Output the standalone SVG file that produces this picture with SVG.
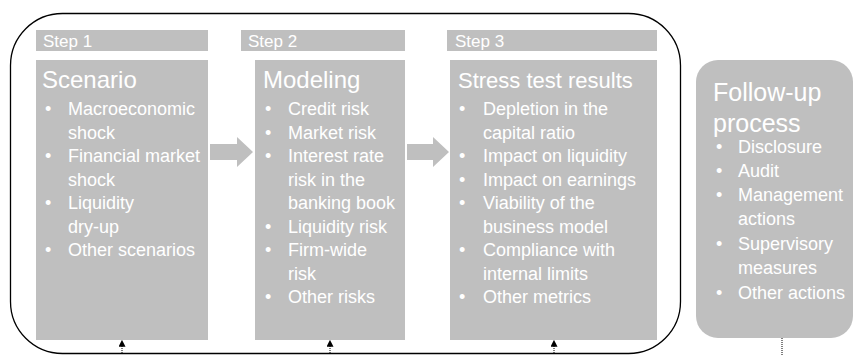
<svg xmlns="http://www.w3.org/2000/svg" width="855" height="356" viewBox="0 0 855 356">
<defs>
<style>
.box{fill:#bfbfbf;}
.t{font-family:"Liberation Sans",Arial,sans-serif;fill:#ffffff;}
.hd{font-size:17px;}
.ti{font-size:24px;}
.b{font-size:18px;}
.con{stroke:#000;stroke-width:1;fill:none;}
.dot{stroke:#000;stroke-width:1;stroke-dasharray:1 1;fill:none;}
</style>
<marker id="ah" viewBox="0 0 6 6" refX="5" refY="3" markerWidth="7" markerHeight="7" markerUnits="userSpaceOnUse" orient="auto">
<path d="M0,0 L6,3 L0,6 z" fill="#000"/>
</marker>
</defs>
<rect width="855" height="356" fill="#ffffff"/>
<g id="frame">
<rect x="10.5" y="13.5" width="670" height="340" rx="52" ry="52" fill="none" stroke="#000" stroke-width="1.3"/>
</g>
<g id="step1">
<rect class="box" x="36" y="30" width="172" height="21"/>
<text class="t hd" x="43" y="47">Step 1</text>
<rect class="box" x="36" y="60" width="172" height="280"/>
<text class="t ti" x="42" y="88">Scenario</text>
<g class="t b">
<text x="45" y="115">•</text><text x="68" y="115">Macroeconomic</text>
<text x="68" y="138.5">shock</text>
<text x="45" y="162">•</text><text x="68" y="162">Financial market</text>
<text x="68" y="185.5">shock</text>
<text x="45" y="209">•</text><text x="68" y="209">Liquidity</text>
<text x="68" y="232.5">dry-up</text>
<text x="45" y="256">•</text><text x="68" y="256">Other scenarios</text>
</g>
</g>
<g id="step2">
<rect class="box" x="241" y="30" width="164" height="21"/>
<text class="t hd" x="248" y="47">Step 2</text>
<rect class="box" x="255" y="60" width="150" height="280"/>
<text class="t ti" x="263" y="88">Modeling</text>
<g class="t b">
<text x="265" y="115">•</text><text x="288" y="115">Credit risk</text>
<text x="265" y="138.5">•</text><text x="288" y="138.5">Market risk</text>
<text x="265" y="162">•</text><text x="288" y="162">Interest rate</text>
<text x="288" y="185.5">risk in the</text>
<text x="288" y="209">banking book</text>
<text x="265" y="232.5">•</text><text x="288" y="232.5">Liquidity risk</text>
<text x="265" y="256">•</text><text x="288" y="256">Firm-wide</text>
<text x="288" y="279.5">risk</text>
<text x="265" y="303">•</text><text x="288" y="303">Other risks</text>
</g>
</g>
<g id="step3">
<rect class="box" x="447" y="30" width="210" height="21"/>
<text class="t hd" x="455" y="47">Step 3</text>
<rect class="box" x="450" y="60" width="207" height="280"/>
<text class="t" x="458" y="88" font-size="22">Stress test results</text>
<g class="t b">
<text x="459" y="115">•</text><text x="483" y="115">Depletion in the</text>
<text x="483" y="138.5">capital ratio</text>
<text x="459" y="162">•</text><text x="483" y="162">Impact on liquidity</text>
<text x="459" y="185.5">•</text><text x="483" y="185.5">Impact on earnings</text>
<text x="459" y="209">•</text><text x="483" y="209">Viability of the</text>
<text x="483" y="232.5">business model</text>
<text x="459" y="256">•</text><text x="483" y="256">Compliance with</text>
<text x="483" y="279.5">internal limits</text>
<text x="459" y="303">•</text><text x="483" y="303">Other metrics</text>
</g>
</g>
<g id="followup">
<rect class="box" x="696" y="60" width="157" height="278" rx="22" ry="22"/>
<text class="t" x="713" y="101" font-size="25">Follow-up</text>
<text class="t" x="713" y="132" font-size="25">process</text>
<g class="t b">
<text x="716" y="153">•</text><text x="738" y="153">Disclosure</text>
<text x="716" y="177">•</text><text x="738" y="177">Audit</text>
<text x="716" y="201">•</text><text x="738" y="201">Management</text>
<text x="738" y="225">actions</text>
<text x="716" y="250">•</text><text x="738" y="250">Supervisory</text>
<text x="738" y="274">measures</text>
<text x="716" y="299">•</text><text x="738" y="299">Other actions</text>
</g>
</g>
<g id="connectors">
<path class="box" d="M210,144 H237 V137 L253,152 L237,167 V160 H210 Z"/>
<path class="box" d="M407,144 H433 V137 L449,152 L433,167 V160 H407 Z"/>
<line class="dot" x1="122" y1="353" x2="122" y2="341" marker-end="url(#ah)"/>
<line class="dot" x1="330" y1="353" x2="330" y2="341" marker-end="url(#ah)"/>
<line class="dot" x1="554" y1="353" x2="554" y2="341" marker-end="url(#ah)"/>
<line class="dot" x1="782" y1="338" x2="782" y2="356"/>
</g>
</svg>
